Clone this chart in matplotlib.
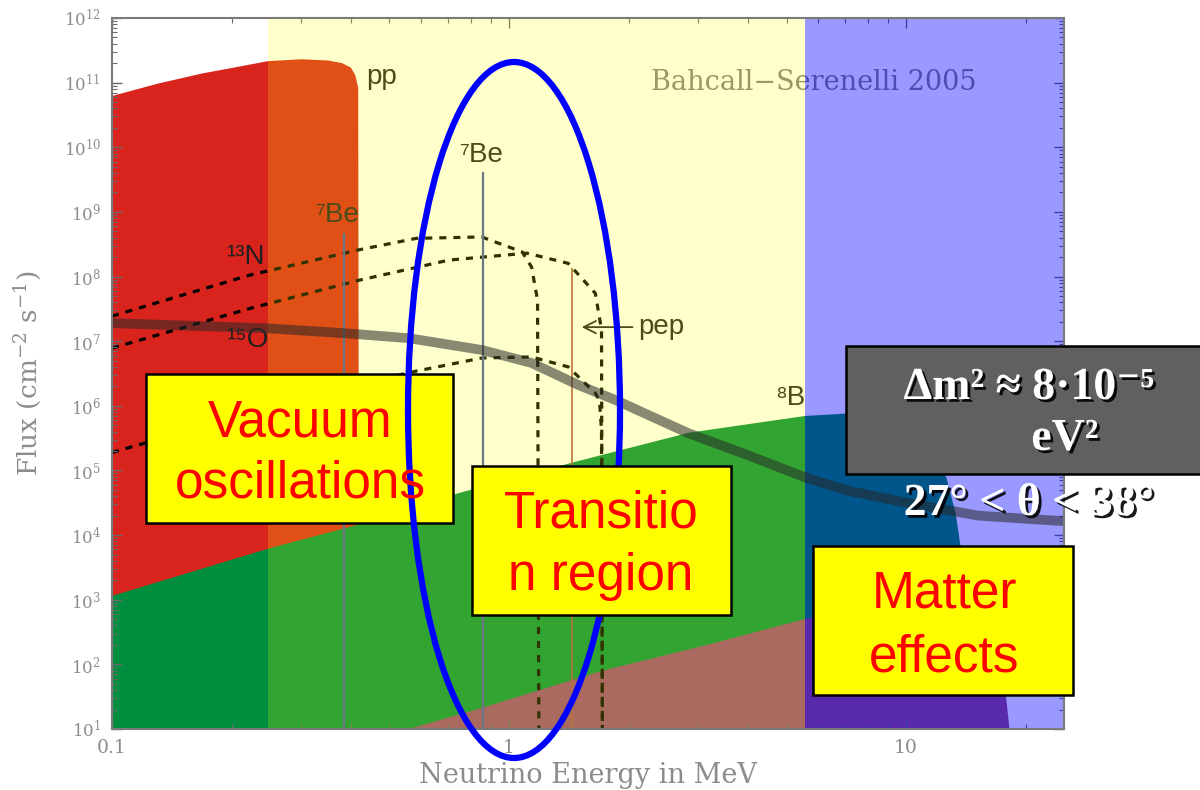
import numpy as np
import matplotlib.pyplot as plt
import matplotlib.patches as mpatches
import matplotlib.patheffects as pe
from matplotlib.ticker import FuncFormatter, FixedLocator, LogLocator

plt.rcParams['mathtext.fontset'] = 'dejavuserif'
SANS = ['Liberation Sans', 'DejaVu Sans']
SERIF = ['Liberation Serif', 'DejaVu Serif']

# solar neutrino spectra, E in MeV, flux in cm^-2 s^-1 (MeV^-1 for continua)
pp_E = [0.1, 0.13, 0.17, 0.2, 0.247, 0.3, 0.35, 0.38, 0.40, 0.41, 0.417, 0.42]
pp_F = [6.2e10, 9.6e10, 1.4e11, 1.68e11, 2.15e11, 2.3e11, 2.2e11, 2.0e11,
        1.7e11, 1.3e11, 8.3e10, 1e-2]

b8_E = [0.1, 0.247, 0.42, 0.75, 1.5, 2.83, 5.56, 7.0, 9.0, 11.0, 12.6, 13.3,
        13.7, 14.5, 15.5, 16.3, 16.6]
b8_F = [1.17e3, 6.3e3, 1.5e4, 4.6e4, 1.44e5, 3.9e5, 7.1e5, 7.7e5, 6.5e5,
        3.2e5, 7.9e4, 2.2e4, 6.4e3, 1.5e3, 2e2, 1.5e1, 1e-2]

hep_E = [0.5, 0.57, 0.84, 1.71, 3.22, 5.56, 9.5, 12.0, 14.5, 16.5, 17.8, 18.4, 18.8]
hep_F = [8.0, 10.6, 21, 81, 211, 515, 9e2, 8e2, 5e2, 1.5e2, 33, 5, 1e-2]

n13_E = [0.1, 0.222, 0.42, 0.584, 0.853, 1.08, 1.14, 1.18, 1.19]
n13_F = [2.44e7, 1.05e8, 2.6e8, 3.9e8, 4.1e8, 2.4e8, 1.4e8, 4.3e7, 1]

o15_E = [0.1, 0.222, 0.42, 0.707, 1.11, 1.41, 1.65, 1.71, 1.72]
o15_F = [7.8e6, 3.2e7, 8.8e7, 1.8e8, 2.3e8, 1.6e8, 5.5e7, 1.5e7, 1]

f17_E = [0.1, 0.1196, 0.25, 0.55, 0.855, 1.14, 1.41, 1.65, 1.69, 1.71, 1.72]
f17_F = [1.9e5, 2.6e5, 8.5e5, 3.2e6, 5.5e6, 5.7e6, 4.0e6, 1.57e6, 1.2e6, 4.2e5, 1]

# line sources
be7_E = [0.384, 0.862]
be7_F = [4.7e8, 4.2e9]
pep_E = 1.442
pep_F = 1.35e8

# survival-probability style band drawn across the spectrum
curve_E = [0.1, 0.247, 0.385, 0.561, 0.855, 1.14, 1.50, 1.86, 2.25, 2.83,
           4.0, 5.56, 7.1, 10.2, 15.2, 25]
curve_F = [1.9e7, 1.58e7, 1.33e7, 1.11e7, 7.3e6, 4.6e6, 2.08e6, 1.22e6,
           7.15e5, 3.77e5, 1.72e5, 7.85e4, 4.9e4, 3.1e4, 2.0e4, 1.64e4]

# energy regimes: vacuum / transition / matter
region_edges = [0.1, 0.247, 5.56, 25]

W, H = 1200, 790
fig = plt.figure(figsize=(W / 100, H / 100), dpi=100)
ax = fig.add_axes([112 / W, 1 - 729 / H, (1064 - 112) / W, (729 - 18) / H])
ax.set_xscale('log')
ax.set_yscale('log')
ax.set_xlim(0.1, 25)
ax.set_ylim(1e1, 1e12)

ax.fill_between(pp_E, pp_F, 1e-2, color='#d8241c', lw=0, zorder=1)
ax.fill_between(b8_E, b8_F, 1e-2, color='#008e3e', lw=0, zorder=1.1)
ax.fill_between(hep_E, hep_F, 1e-2, color='#954578', lw=0, zorder=1.2)

for E, F in [(n13_E, n13_F), (o15_E, o15_F), (f17_E, f17_F)]:
    ax.plot(E, F, color='black', lw=2.3, ls=(0, (2.2, 2.2)), zorder=1.3)

lab = dict(family=SANS, fontsize=20, color='#202020', zorder=1.5, va='center')
ax.text(0.437, 1.22e11, 'pp', **lab)
ax.text(0.324, 8.9e8, '\u2077Be', **lab)
ax.text(0.749, 7.6e9, '\u2077Be', **lab)
ax.text(0.1945, 2.0e8, '\u00b9\u00b3N', **lab)
ax.text(0.1945, 1.04e7, '\u00b9\u2075O', **lab)
ax.text(4.69, 1.31e6, '\u2078B', **lab)
ax.text(2.12, 1.65e7, 'pep', **lab)
ax.annotate('', xy=(1.50, 1.65e7), xytext=(2.08, 1.65e7), zorder=1.5,
            arrowprops=dict(arrowstyle='->', color='#202020', lw=1.3,
                            mutation_scale=22))
ax.text(2.28, 9.9e10, 'Bahcall\u2212Serenelli 2005', family='DejaVu Serif',
        fontsize=19.5, color='#808080', va='center', zorder=1.5)

# coloured regime overlays
ax.axvspan(region_edges[1], region_edges[2], color=(1, 1, 0), alpha=0.2, lw=0, zorder=2)
ax.axvspan(region_edges[2], region_edges[3], color=(0, 0, 1), alpha=0.4, lw=0, zorder=2)

ax.vlines(be7_E, 1e-2, be7_F, color='#6b7786', lw=1.6, zorder=3)
ax.vlines(pep_E, 1e-2, pep_F, color='#b8733a', lw=1.2, zorder=3)

ax.plot(curve_E, curve_F, color='#282828', alpha=0.55, lw=7,
        solid_capstyle='butt', zorder=4)

# axes styling
for s in ax.spines.values():
    s.set_color('#7a7a7a')
    s.set_linewidth(1.5)
    s.set_zorder(5)
ax.yaxis.set_major_locator(FixedLocator(10.0 ** np.arange(1, 13)))
ax.yaxis.set_minor_locator(LogLocator(base=10, subs=np.arange(2, 10), numticks=20))
ax.xaxis.set_major_locator(FixedLocator([0.1, 1, 10]))
ax.xaxis.set_major_formatter(FuncFormatter(lambda v, _: f'{v:g}'))
ax.yaxis.set_major_formatter(FuncFormatter(lambda v, _: r'$10^{%d}$' % round(np.log10(v))))
ax.tick_params(which='both', direction='in', top=True, right=True,
               colors='#6a6a6a', labelcolor='#8c8c8c')
ax.tick_params(which='major', length=7, width=1)
ax.tick_params(which='minor', length=3.5, width=0.8)
ax.tick_params(axis='y', pad=8, labelsize=12)
ax.tick_params(axis='x', pad=7, labelsize=13.5)
for t in ax.get_xticklabels() + ax.get_yticklabels():
    t.set_family('DejaVu Serif')
ax.set_xlabel('Neutrino Energy in MeV', family='DejaVu Serif', fontsize=19.5,
              color='#8c8c8c')
ax.set_ylabel(r'Flux (cm$^{-2}$ s$^{-1}$)', family='DejaVu Serif', fontsize=19,
              color='#8c8c8c')
ax.xaxis.set_label_coords(0.5, -0.066)
ax.xaxis.label.set_va('center')
ax.yaxis.set_label_coords(-0.089, 0.5)
ax.yaxis.label.set_va('center')


def fbox(x0, y0, x1, y1, face, z):
    fig.add_artist(mpatches.Rectangle((x0 / W, 1 - y1 / H), (x1 - x0) / W,
                                      (y1 - y0) / H, transform=fig.transFigure,
                                      facecolor=face, edgecolor='black',
                                      lw=1.8, zorder=z))


def ftext(x, y, s, **kw):
    fig.text(x / W, 1 - y / H, s, ha='center', va='baseline', zorder=6, **kw)


fbox(146, 374, 453, 523, '#ffff00', 2)
fig.add_artist(mpatches.Ellipse((514 / W, 1 - 410 / H), 212 / W, 696 / H,
                                transform=fig.transFigure, fill=False,
                                edgecolor='#0000ff', lw=4.5, zorder=3))
fbox(472, 466, 731, 615, '#ffff00', 4)
fbox(813, 546, 1073, 695, '#ffff00', 4)
fbox(846, 346, 1202, 474, '#606060', 4)

red = dict(family=SANS, fontsize=37, color='#ff0000')
ftext(300, 437, 'Vacuum', **red)
ftext(300, 498, 'oscillations', **red)
ftext(601, 527, 'Transitio', **red)
ftext(601, 590, 'n region', **red)
ftext(944, 608, 'Matter', **red)
ftext(944, 672, 'effects', **red)

shadow = [pe.SimplePatchShadow(offset=(2, -2), shadow_rgbFace='black', alpha=0.9),
          pe.Normal()]
white = dict(family=SERIF, fontsize=33, weight='bold', color='white',
             path_effects=shadow)
ftext(1029, 399, '\u0394m\u00b2 \u2248 8\u00b710\u207b\u2075', **white)
ftext(1065, 450, 'eV\u00b2', **white)
ftext(1029, 515, '27\u00b0 < \u03b8 < 38\u00b0', **white)

fig.savefig('out.png', dpi=100)
